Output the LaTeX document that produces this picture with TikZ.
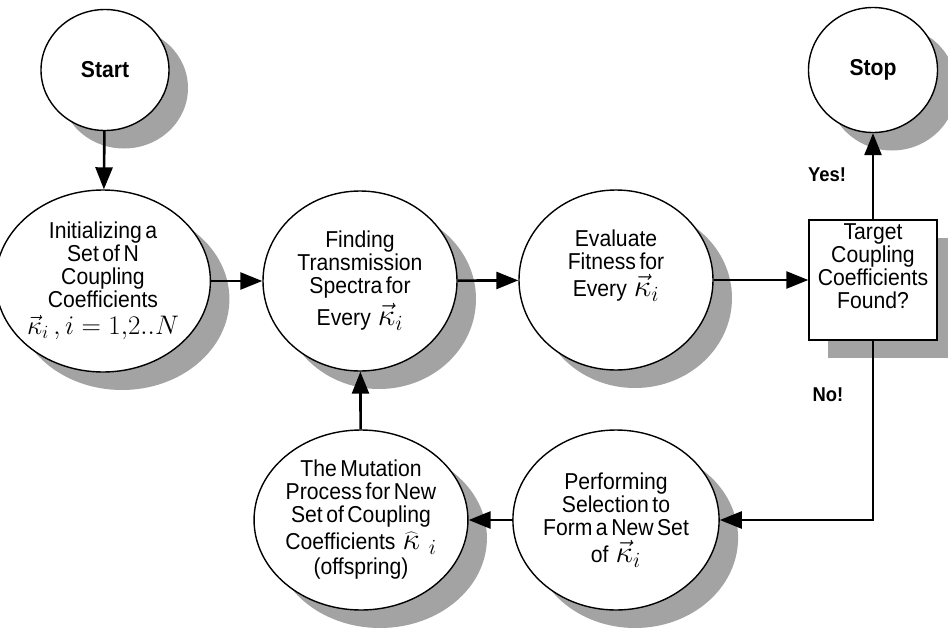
\documentclass[tikz,border=0pt]{standalone}
\usepackage{fontspec}
\setmainfont{Liberation Sans}[FakeStretch=0.92,WordSpace=0.6]
\usetikzlibrary{arrows.meta,shapes.geometric,shadows}
\tikzset{>={Triangle[length=22pt,width=17pt]}}
\tikzset{shade/.style={drop shadow={shadow xshift=19pt,shadow yshift=-18pt,opacity=1,fill=black!36}}}
\tikzset{stage/.style={ellipse,draw,line width=1.4pt,fill=white,shade,inner sep=0pt,align=center,
    font=\fontsize{23}{23}\selectfont,minimum width=194pt,minimum height=180pt}}
\tikzset{flow/.style={->,line width=2.6pt}}
\newcommand{\kvec}{\scalebox{1.25}{$\vec{\kappa}_i$}}

\begin{document}
\begin{tikzpicture}[x=1pt,y=-1pt]
      \useasboundingbox (0,0) rectangle (948,627);
      % start and stop
      \node[stage,minimum width=128pt,minimum height=121pt,font=\fontsize{23}{23}\selectfont\bfseries] (start) at (105,70) {Start};
      \node[stage,minimum width=129pt,minimum height=125pt,font=\fontsize{23}{23}\selectfont\bfseries] (stop) at (873,70) {Stop};
      % top row
      \node[stage,minimum width=198pt,minimum height=182pt] (init) at (103,281)
            {Initializing a\\ Set of N\\ Coupling\\ Coefficients\\[4pt] \scalebox{1.08}{$\vec{\kappa}_i\,, i=1{,}2..N$}};
      \node[stage] (find) at (360,281)
            {Finding\\ Transmission\\ Spectra for\\[4pt] Every \ \kvec};
      \node[stage] (eval) at (616,280)
            {Evaluate\\ Fitness for\\[4pt] Every \ \kvec\\[10pt]};
      \node[rectangle,draw,line width=1.4pt,fill=white,shade,align=center,inner sep=0pt,
            font=\fontsize{23}{23}\selectfont,minimum width=128pt,minimum height=120pt] (target) at (873,280)
            {Target\\ Coupling\\ Coefficients\\ Found?\\[4pt]};
      % bottom row
      \node[stage] (perform) at (616,520)
            {Performing\\ Selection to\\ Form a New Set\\[4pt] of \ \kvec};
      \node[stage] (mutate) at (361,520)
            {The Mutation\\ Process for New\\ Set of Coupling\\[4pt] Coefficients \ \scalebox{1.25}{$\widehat{\kappa}\;{}_i$}\\[2pt] (offspring)};
      % answers
      \node[font=\fontsize{20}{20}\selectfont\bfseries] (yes) at (827,175) {Yes!};
      \node[font=\fontsize{20}{20}\selectfont\bfseries] (no) at (828,395) {No!};
      % arrows
      \draw[flow] (start) -- (init);
      \draw[flow] (init) -- (find);
      \draw[flow] (find) -- (eval);
      \draw[flow] (eval) -- (target);
      \draw[flow] (target) -- (stop);
      \draw[flow] (target.south) |- (perform.east);
      \draw[flow] (perform) -- (mutate);
      \draw[flow] (mutate) -- (find);
    \end{tikzpicture}
\end{document}
